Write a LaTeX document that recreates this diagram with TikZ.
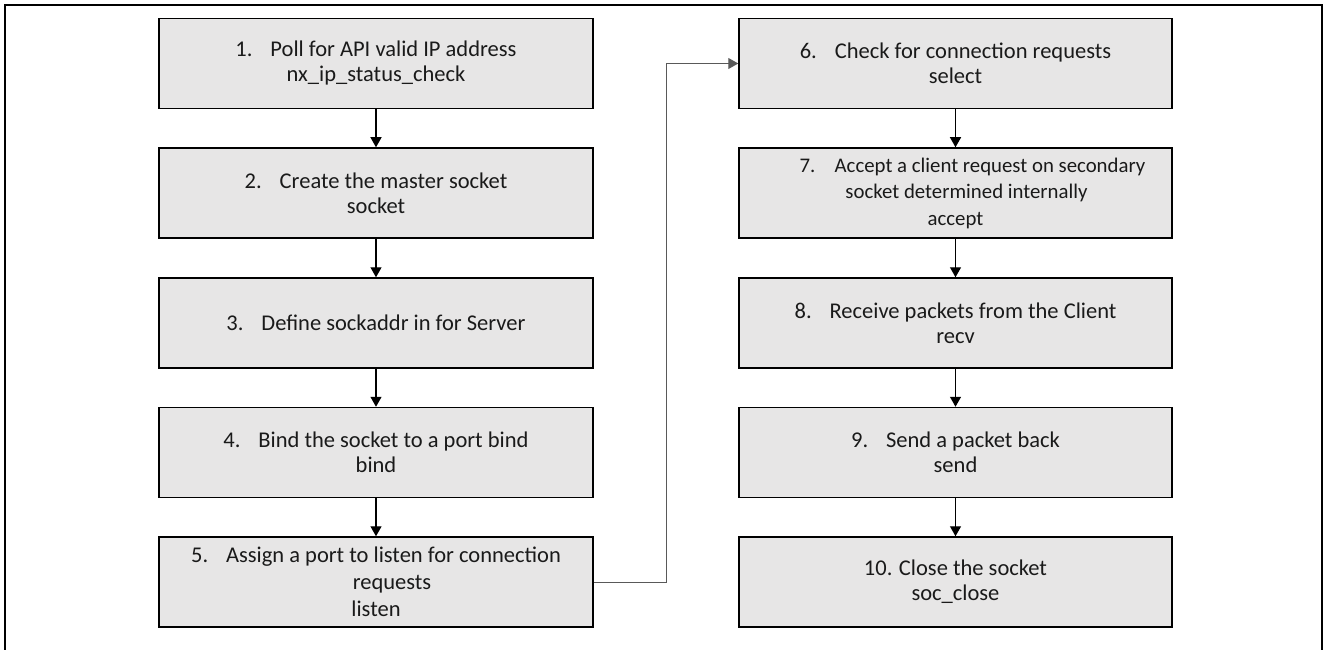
\documentclass[tikz,border=0pt]{standalone}
\usepackage{fontspec}
\setmainfont{Carlito}
\usetikzlibrary{arrows.meta}
\definecolor{boxgray}{HTML}{E7E6E6}
\definecolor{linegray}{HTML}{595959}
\definecolor{txt}{HTML}{1A1A1A}
\newcommand{\nm}[1]{\makebox[35pt][l]{#1}}
\begin{document}
\begin{tikzpicture}[x=1pt,y=-1pt,
  box/.style={draw=black, line width=1.5pt, fill=boxgray, minimum width=434pt,
    minimum height=90pt, inner sep=0pt, align=center,
    font=\fontsize{22.5}{25}\selectfont, text=txt},
  arr/.style={-{Triangle[length=10pt,width=11pt]}, line width=1.3pt, draw=black},
  elb/.style={-{Triangle[length=10pt,width=11pt]}, line width=1pt, draw=linegray},
  frame/.style={draw=black, line width=2pt}]
\useasboundingbox (0,0) rectangle (1326,650);
\begin{scope}
\clip (0,0) rectangle (1326,650);
\draw[frame] (5,5) rectangle (1322,700);
\end{scope}
% left column
\node[box] (n1) at (376,63.5) {\nm{1.}Poll for API valid IP address\\ nx\_ip\_status\_check};
\node[box] (n2) at (376,193) {\nm{2.}Create the master socket\\ socket};
\node[box] (n3) at (376,323) {\nm{3.}Define sockaddr in for Server};
\node[box] (n4) at (376,452.5) {\nm{4.}Bind the socket to a port bind\\ bind};
\node[box, font=\fontsize{22.5}{27}\selectfont] (n5) at (376,582) {\nm{5.}Assign a port to listen for connection\\ \hspace*{32pt}requests\\ listen};
% right column
\node[box, minimum width=433pt] (n6) at (955.5,63.5) {\nm{6.}Check for connection requests\\ select};
\node[box, minimum width=433pt, font=\fontsize{20.8}{26.5}\selectfont] (n7) at (955.5,193) {\hspace*{34pt}\nm{7.}Accept a client request on secondary\\ \hspace*{22pt}socket determined internally\\ accept};
\node[box, minimum width=433pt] (n8) at (955.5,323) {\nm{8.}Receive packets from the Client\\ recv};
\node[box, minimum width=433pt] (n9) at (955.5,452.5) {\nm{9.}Send a packet back\\ send};
\node[box, minimum width=433pt] (n10) at (955.5,582) {\nm{10.}Close the socket\\ soc\_close};
% arrows
\draw[arr] (n1) -- (n2);
\draw[arr] (n2) -- (n3);
\draw[arr] (n3) -- (n4);
\draw[arr] (n4) -- (n5);
\draw[arr] (n6) -- (n7);
\draw[arr] (n7) -- (n8);
\draw[arr] (n8) -- (n9);
\draw[arr] (n9) -- (n10);
\coordinate (bend) at (666,0);
\draw[elb] (n5.east) -- (n5.east -| bend) -- (bend |- n6.west) -- (n6.west);
\end{tikzpicture}
\end{document}
